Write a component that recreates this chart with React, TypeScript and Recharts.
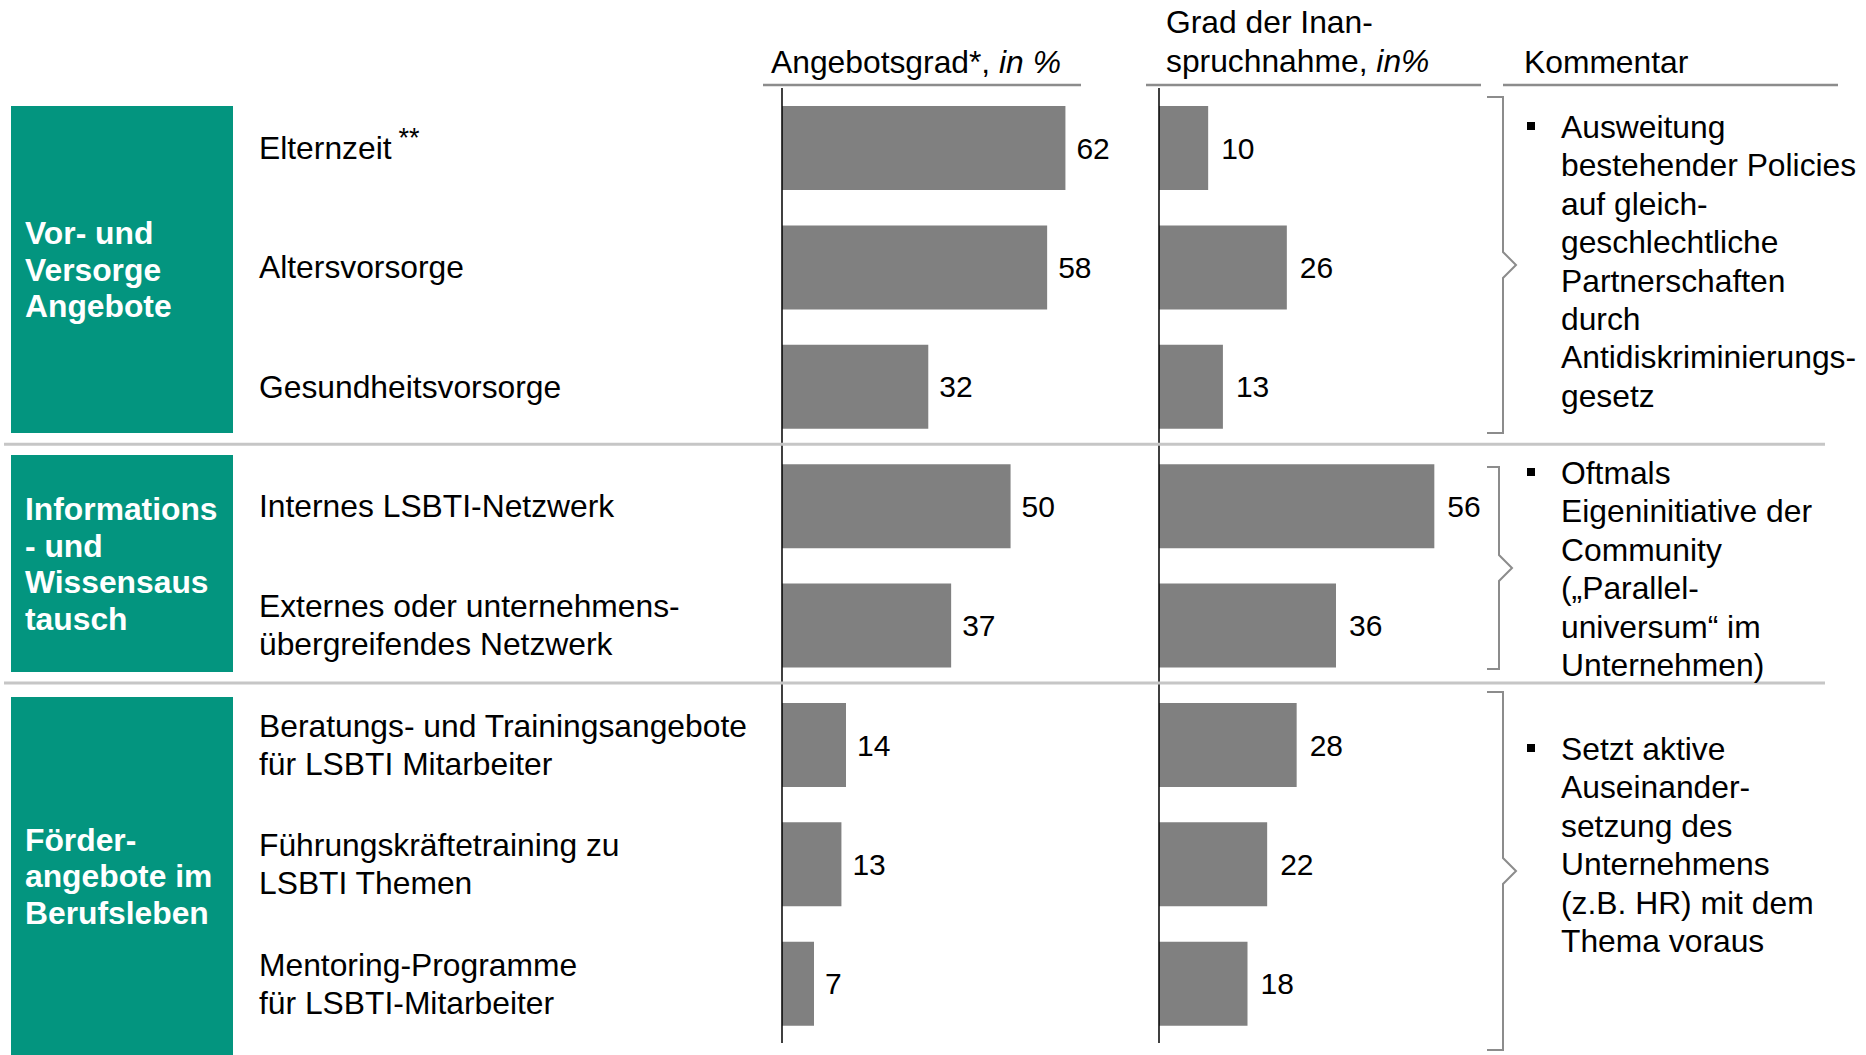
import { Bar, BarChart, LabelList, XAxis, YAxis } from "recharts";

const FONT = "'Liberation Sans', Arial, sans-serif";

// rows, top to bottom
const categories = [
  "Elternzeit",
  "Altersvorsorge",
  "Gesundheitsvorsorge",
  "Internes LSBTI-Netzwerk",
  "Externes oder unternehmens-\nübergreifendes Netzwerk",
  "Beratungs- und Trainingsangebote\nfür LSBTI Mitarbeiter",
  "Führungskräftetraining zu\nLSBTI Themen",
  "Mentoring-Programme\nfür LSBTI-Mitarbeiter",
];
const footnotes = ["**", "", "", "", "", "", "", ""];
const angebotsgrad = [62, 58, 32, 50, 37, 14, 13, 7];
const inanspruchnahme = [10, 26, 13, 56, 36, 28, 22, 18];

const groupNames = [
  ["Vor- und", "Versorge", "Angebote"],
  ["Informations", "- und", "Wissensaus", "tausch"],
  ["Förder-", "angebote im", "Berufsleben"],
];
const groupSizes = [3, 2, 3];

const comments = [
  [
    "Ausweitung",
    "bestehender Policies",
    "auf gleich-",
    "geschlechtliche",
    "Partnerschaften",
    "durch",
    "Antidiskriminierungs-",
    "gesetz",
  ],
  [
    "Oftmals",
    "Eigeninitiative der",
    "Community",
    "(„Parallel-",
    "universum“ im",
    "Unternehmen)",
  ],
  [
    "Setzt aktive",
    "Auseinander-",
    "setzung des",
    "Unternehmens",
    "(z.B. HR) mit dem",
    "Thema voraus",
  ],
];

// layout (pixels)
const W = 1866;
const H = 1055;
const PLOT_TOP = 88;
const PLOT_BOTTOM = 12;
const PITCH = (H - PLOT_TOP - PLOT_BOTTOM) / categories.length;
const FS = 31.8;
const TEAL = "#03957f";
const BAR = "#808080";
const boxSpans = [
  [106, 433],
  [455, 672],
  [697, 1055],
];
const bracketSpans = [
  [97, 433, 16],
  [467, 669, 12],
  [692, 1050, 16],
];
const commentBaselines = [138, 484, 760];

const rows = categories.map((label, i) => ({
  label,
  note: footnotes[i],
  a: angebotsgrad[i],
  b: inanspruchnahme[i],
}));

function CategoryTick(props: any) {
  const { y, payload, index } = props;
  const lines = String(payload.value).split("\n");
  const note = footnotes[index] ?? "";
  return (
    <g>
      {lines.map((line, i) => (
        <text
          key={i}
          x={259}
          y={y + 11.3 + (i - (lines.length - 1) / 2) * 38}
          fontSize={FS}
          fontFamily={FONT}
          fill="#000"
        >
          {line}
          {note && i === lines.length - 1 ? (
            <tspan dx={7} dy={-12} fontSize={27}>
              {note}
            </tspan>
          ) : null}
        </text>
      ))}
    </g>
  );
}

function Decorations() {
  let start = 0;
  const separators: number[] = [];
  groupSizes.forEach((n, g) => {
    start += n;
    if (g < groupSizes.length - 1) separators.push(PLOT_TOP + start * PITCH - 2);
  });
  return (
    <svg
      width={W}
      height={H}
      style={{ position: "absolute", left: 0, top: 0, pointerEvents: "none" }}
      fontFamily={FONT}
    >
      {/* headers */}
      <text x={771} y={73} fontSize={FS}>
        Angebotsgrad*, <tspan fontStyle="italic">in %</tspan>
      </text>
      <text x={1166} y={33} fontSize={FS}>
        Grad der Inan-
      </text>
      <text x={1166} y={72} fontSize={FS}>
        spruchnahme, <tspan fontStyle="italic">in%</tspan>
      </text>
      <text x={1524} y={73} fontSize={FS}>
        Kommentar
      </text>
      {[
        [763, 1081],
        [1146, 1481],
        [1503, 1838],
      ].map(([x1, x2], i) => (
        <line key={i} x1={x1} x2={x2} y1={85} y2={85} stroke="#8c8c8c" strokeWidth={2.5} />
      ))}

      {/* group separators */}
      {separators.map((y, i) => (
        <line key={i} x1={4} x2={1825} y1={y} y2={y} stroke="#c6c6c6" strokeWidth={3} />
      ))}

      {/* teal group boxes */}
      {groupNames.map((lines, g) => {
        const [t, b] = boxSpans[g];
        const c = (t + b) / 2;
        return (
          <g key={g}>
            <rect x={11} y={t} width={222} height={b - t} fill={TEAL} />
            {lines.map((line, i) => (
              <text
                key={i}
                x={25}
                y={c + 11.3 + (i - (lines.length - 1) / 2) * 36.5}
                fontSize={FS}
                fontWeight="bold"
                fill="#fff"
              >
                {line}
              </text>
            ))}
          </g>
        );
      })}

      {/* brackets */}
      {bracketSpans.map(([t, b, w], i) => {
        const m = (t + b) / 2;
        const x0 = 1487;
        const x1 = x0 + w;
        const tip = x1 + 13;
        return (
          <path
            key={i}
            d={`M ${x0} ${t} H ${x1} V ${m - 13} L ${tip} ${m} L ${x1} ${m + 13} V ${b} H ${x0}`}
            fill="none"
            stroke="#8c8c8c"
            strokeWidth={2}
          />
        );
      })}

      {/* comments */}
      {comments.map((lines, g) => (
        <g key={g}>
          <rect x={1527} y={commentBaselines[g] - 16} width={8} height={8} fill="#000" />
          {lines.map((line, i) => (
            <text key={i} x={1561} y={commentBaselines[g] + i * 38.4} fontSize={FS}>
              {line}
            </text>
          ))}
        </g>
      ))}
    </svg>
  );
}

export default function App() {
  return (
    <div
      style={{
        position: "absolute",
        left: 0,
        top: 0,
        width: W,
        height: H,
        background: "#fff",
        overflow: "hidden",
      }}
    >
      <div style={{ position: "absolute", left: 0, top: 0 }}>
        <BarChart
          width={1140}
          height={H}
          data={rows}
          layout="vertical"
          margin={{ top: PLOT_TOP, right: 38, bottom: PLOT_BOTTOM, left: 0 }}
        >
          <XAxis type="number" domain={[0, 70]} hide />
          <YAxis
            type="category"
            dataKey="label"
            width={782}
            axisLine={{ stroke: "#000", strokeWidth: 1.5 }}
            tickLine={false}
            tick={<CategoryTick />}
            interval={0}
          />
          <Bar dataKey="a" fill={BAR} barSize={84} isAnimationActive={false}>
            <LabelList
              dataKey="a"
              position="right"
              offset={11}
              fontSize={30}
              fontFamily={FONT}
              fill="#000"
            />
          </Bar>
        </BarChart>
      </div>
      <div style={{ position: "absolute", left: 1130, top: 0 }}>
        <BarChart
          width={370}
          height={H}
          data={rows}
          layout="vertical"
          margin={{ top: PLOT_TOP, right: 46, bottom: PLOT_BOTTOM, left: 0 }}
        >
          <XAxis type="number" domain={[0, 60]} hide />
          <YAxis
            type="category"
            dataKey="label"
            width={29}
            axisLine={{ stroke: "#000", strokeWidth: 1.5 }}
            tickLine={false}
            tick={false}
          />
          <Bar dataKey="b" fill={BAR} barSize={84} isAnimationActive={false}>
            <LabelList
              dataKey="b"
              position="right"
              offset={13}
              fontSize={30}
              fontFamily={FONT}
              fill="#000"
            />
          </Bar>
        </BarChart>
      </div>
      <Decorations />
    </div>
  );
}
